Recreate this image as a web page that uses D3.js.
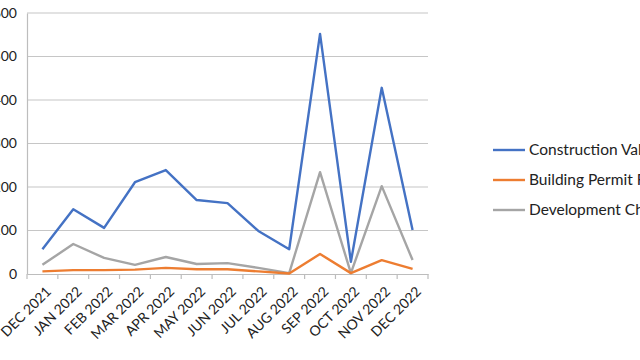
<!DOCTYPE html>
<html><head><meta charset="utf-8">
<script src="https://cdn.jsdelivr.net/npm/d3@7"></script>
<style>html,body{margin:0;padding:0;background:#fff;overflow:hidden}svg{display:block}</style>
</head><body>
<svg id="c" width="640" height="360"></svg>
<script>
const categories = ["DEC 2021","JAN 2022","FEB 2022","MAR 2022","APR 2022","MAY 2022","JUN 2022","JUL 2022","AUG 2022","SEP 2022","OCT 2022","NOV 2022","DEC 2022"];
const constructionValue = [57,149,106,211,239,170,163,99,57,552,28,428,101];
const buildingPermitFees = [6,9,9,10,14,11,11,6,1,46,2,32,12];
const developmentCharges = [21,69,37,21,39,23,25,14,2,234,2,202,32];
const yTicks = [0,100,200,300,400,500,600];
const seriesNames = ["Construction Value","Building Permit Fees","Development Charges"];
const colors = ["#4472C4","#ED7D31","#A5A5A5"];

const svg = d3.select("#c");
const pLeft = 27, pRight = 428, pTop = 13, pBottom = 274;
const x = d3.scaleBand().domain(categories).range([pLeft, pRight]);
const y = d3.scaleLinear().domain([0, 600]).range([pBottom, pTop]);
const font = "Lato, 'Liberation Sans', sans-serif";

// gridlines
svg.append("g").selectAll("line").data(yTicks.filter(d => d > 0)).join("line")
  .attr("x1", pLeft).attr("x2", pRight)
  .attr("y1", d => y(d)).attr("y2", d => y(d))
  .attr("stroke", "#c6c6c6").attr("stroke-width", 1.2);

// y axis
const ya = svg.append("g").attr("transform", `translate(${pLeft},0)`)
  .call(d3.axisLeft(y).tickValues(yTicks).tickSize(0).tickPadding(10));
ya.select(".domain").attr("stroke", "#bdbdbd").attr("stroke-width", 1.2);
ya.selectAll("text").attr("font-family", font).attr("font-size", 14).attr("fill", "#222");

// x axis
const xa = svg.append("g").attr("transform", `translate(0,${pBottom})`)
  .call(d3.axisBottom(x).tickSize(0).tickPadding(0));
xa.select(".domain").attr("stroke", "#bdbdbd").attr("stroke-width", 1.2);
xa.selectAll(".tick text").remove();
// boundary tick marks
const bounds = categories.map(c => x(c)).concat([pRight]);
xa.selectAll(".bt").data(bounds).join("line").attr("class","bt")
  .attr("x1", d => d).attr("x2", d => d).attr("y1", 0).attr("y2", 5)
  .attr("stroke", "#bdbdbd").attr("stroke-width", 1.2);
xa.selectAll(".lbl").data(categories).join("text").attr("class","lbl")
  .attr("transform", d => `translate(${x(d) + x.bandwidth()/2 + 6},${15}) rotate(-45)`)
  .attr("text-anchor", "end").attr("font-family", font).attr("font-size", 14).attr("fill", "#222")
  .attr("dy", "0.35em")
  .text(d => d);

// lines
const data = [constructionValue, buildingPermitFees, developmentCharges];
const line = d3.line().x((d, i) => x(categories[i]) + x.bandwidth()/2).y(d => y(d));
[2,1,0].forEach(k => {
  svg.append("path").datum(data[k]).attr("d", line)
    .attr("fill", "none").attr("stroke", colors[k]).attr("stroke-width", 2.4)
    .attr("stroke-linejoin", "round");
});

// legend
const lg = svg.append("g");
seriesNames.forEach((n, i) => {
  const yy = 150 + i * 30;
  lg.append("line").attr("x1", 493).attr("x2", 525).attr("y1", yy).attr("y2", yy)
    .attr("stroke", colors[i]).attr("stroke-width", 2.4);
  lg.append("text").attr("x", 529).attr("y", yy).attr("dy", "0.35em")
    .attr("font-family", font).attr("font-size", 15.5).attr("fill", "#222").text(n);
});
</script>
</body></html>
